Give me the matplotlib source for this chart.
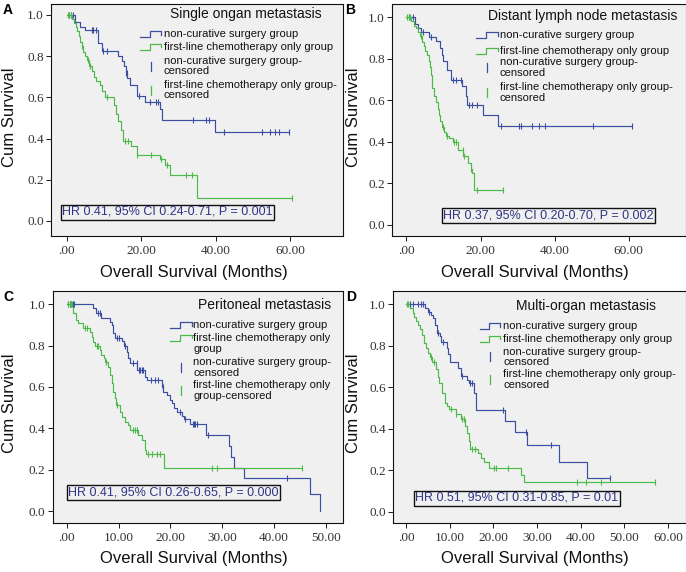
import matplotlib
matplotlib.use("Agg")
import matplotlib.pyplot as plt
import matplotlib.transforms as mtransforms
from matplotlib.lines import Line2D
import numpy as np

# ---------------- data ----------------
# Panel A: Single organ metastasis
a_surg_t = [2.2, 3.6, 4.9, 8.3, 9.4, 13.9, 14.8, 15.4, 15.8, 16.2, 17.0, 18.8, 21.0, 25.0, 25.6, 39.7]
a_surg_s = [0.966, 0.943, 0.926, 0.864, 0.827, 0.80, 0.775, 0.75, 0.72, 0.694, 0.659, 0.605, 0.576, 0.545, 0.49, 0.43]
a_surg_c = [0.5, 1.2, 1.8, 6.7, 7.1, 8.0, 9.8, 10.7, 15.9, 16.1, 19.4, 22.4, 24.0, 24.6,
            34.0, 37.5, 38.3, 42.3, 52.5, 54.7, 55.8, 57.0, 59.8]
a_chem_t = [1.5, 2.0, 2.4, 2.8, 3.2, 3.6, 4.0, 4.4, 5.0, 5.5, 6.1, 6.7, 7.3, 8.0, 9.0, 9.6, 10.3,
            12.8, 13.2, 13.9, 14.6, 15.1, 17.4, 18.8, 25.0, 26.4, 27.7, 35.0]
a_chem_s = [0.98, 0.96, 0.94, 0.92, 0.90, 0.87, 0.85, 0.82, 0.80, 0.78, 0.75, 0.73, 0.70, 0.68, 0.66, 0.63, 0.60,
            0.565, 0.52, 0.484, 0.44, 0.387, 0.363, 0.322, 0.30, 0.273, 0.225, 0.11]
a_chem_c = [0.3, 0.7, 1.1, 4.2, 5.8, 6.3, 10.8, 15.6, 16.5, 19.0, 22.6, 25.3, 27.0, 32.1, 33.6, 60.4]

# Panel B: Distant lymph node metastasis
b_surg_t = [2.3, 3.2, 3.9, 6.2, 8.0, 9.1, 9.5, 10.0, 10.9, 12.0, 15.0, 16.0, 16.3, 20.8, 24.8]
b_surg_s = [0.97, 0.948, 0.928, 0.906, 0.885, 0.85, 0.82, 0.79, 0.748, 0.70, 0.67, 0.62, 0.58, 0.53, 0.475]
b_surg_c = [0.8, 1.7, 4.6, 6.6, 12.6, 13.5, 14.7, 16.8, 17.7, 19.1, 25.4, 30.3, 30.8, 33.8, 35.8, 37.4, 50.4, 60.9]
b_chem_t = [1.3, 2.0, 2.5, 3.1, 3.8, 4.3, 4.7, 5.0, 5.5, 6.0, 6.4, 6.6, 6.8, 7.0, 7.4, 7.9, 8.4, 8.8, 9.2, 9.7,
            10.2, 10.8, 11.5, 12.6, 13.9, 15.3, 16.6, 17.3, 17.8, 18.2]
b_chem_s = [0.98, 0.96, 0.95, 0.93, 0.91, 0.88, 0.86, 0.84, 0.82, 0.79, 0.76, 0.72, 0.69, 0.66, 0.62, 0.59, 0.56,
            0.53, 0.50, 0.47, 0.45, 0.43, 0.42, 0.40, 0.36, 0.33, 0.30, 0.27, 0.25, 0.17]
b_chem_c = [0.3, 0.8, 1.1, 4.0, 6.9, 9.8, 11.0, 12.8, 13.5, 15.2, 15.6, 17.5, 19.1, 26.1]

# Panel C: Peritoneal metastasis
c_surg_t = [5.1, 5.6, 6.7, 8.3, 8.7, 9.0, 9.3, 10.6, 11.1, 11.6, 11.9, 12.2, 13.6, 15.1, 15.5, 18.3, 18.6, 19.3,
            19.9, 20.3, 20.7, 21.2, 22.2, 22.6, 23.8, 26.8, 31.4, 31.7, 32.3, 34.2, 46.9, 48.8]
c_surg_s = [0.98, 0.957, 0.932, 0.913, 0.90, 0.86, 0.835, 0.82, 0.80, 0.77, 0.739, 0.715, 0.682, 0.65, 0.634,
            0.60, 0.577, 0.56, 0.537, 0.52, 0.497, 0.48, 0.46, 0.444, 0.419, 0.368, 0.315, 0.263, 0.21, 0.161,
            0.081, 0.0]
c_surg_c = [0.3, 0.6, 0.9, 1.2, 1.5, 6.1, 6.4, 9.7, 10.0, 11.3, 12.8, 13.5, 13.9, 14.2, 14.5, 14.8, 16.2, 17.0,
            17.6, 18.5, 21.8, 22.9, 24.4, 24.6, 24.8, 25.1, 27.3, 42.5]
c_chem_t = [1.3, 1.8, 2.2, 3.2, 4.5, 4.8, 5.1, 5.5, 6.4, 6.7, 7.1, 7.3, 8.0, 8.3, 8.7, 9.0, 9.3, 9.6, 10.3, 10.6,
            11.2, 11.9, 12.2, 13.8, 14.5, 15.1, 15.3, 18.8]
c_chem_s = [0.957, 0.924, 0.908, 0.884, 0.867, 0.843, 0.819, 0.80, 0.779, 0.755, 0.739, 0.72, 0.698, 0.658,
            0.618, 0.577, 0.545, 0.513, 0.48, 0.456, 0.432, 0.416, 0.39, 0.368, 0.343, 0.295, 0.274, 0.207]
c_chem_c = [0.3, 0.6, 0.9, 1.1, 3.6, 3.9, 5.8, 6.1, 7.6, 9.8, 12.8, 13.2, 13.5, 15.6, 16.4, 17.4, 18.0,
            28.0, 28.9, 45.3]

# Panel D: Multi-organ metastasis
d_surg_t = [4.3, 5.0, 5.8, 6.2, 6.6, 7.0, 7.7, 8.0, 9.3, 9.5, 10.0, 12.0, 12.6, 13.9, 14.4, 15.5, 15.9,
            22.6, 24.9, 27.7, 35.0, 41.5]
d_surg_s = [0.98, 0.965, 0.948, 0.932, 0.90, 0.86, 0.845, 0.82, 0.79, 0.76, 0.722, 0.695, 0.655, 0.635, 0.62,
            0.575, 0.49, 0.437, 0.384, 0.321, 0.242, 0.162]
d_surg_c = [0.8, 1.6, 2.7, 3.3, 3.8, 5.2, 7.2, 8.4, 12.9, 14.6, 15.0, 22.2, 27.4, 33.3, 46.6]
d_chem_t = [0.8, 1.5, 1.9, 2.3, 2.7, 3.1, 3.7, 4.2, 4.6, 5.0, 5.5, 6.0, 6.9, 7.3, 7.6, 8.2, 8.8, 9.3, 9.9,
            11.5, 12.6, 13.4, 13.9, 14.4, 14.7, 16.4, 17.2, 17.9, 19.1, 26.3, 26.9]
d_chem_s = [0.98, 0.96, 0.94, 0.92, 0.90, 0.88, 0.85, 0.815, 0.79, 0.767, 0.745, 0.72, 0.687, 0.65, 0.62,
            0.575, 0.526, 0.51, 0.494, 0.47, 0.446, 0.414, 0.382, 0.342, 0.302, 0.286, 0.26, 0.24, 0.214,
            0.178, 0.143]
d_chem_c = [0.2, 0.5, 5.8, 6.3, 10.3, 11.5, 12.9, 13.3, 15.2, 15.8, 20.2, 20.6, 23.4, 39.2, 41.1, 44.6, 57.0]

titles = ["Single ongan metastasis", "Distant lymph node metastasis",
          "Peritoneal metastasis", "Multi-organ metastasis"]
hr_texts = ["HR 0.41, 95% CI 0.24-0.71, P = 0.001", "HR 0.37, 95% CI 0.20-0.70, P = 0.002",
            "HR 0.41, 95% CI 0.26-0.65, P = 0.000", "HR 0.51, 95% CI 0.31-0.85, P = 0.01"]
panel_letters = ["A", "B", "C", "D"]
x_ticks = [[0, 20, 40, 60], [0, 20, 40, 60], [0, 10, 20, 30, 40, 50], [0, 10, 20, 30, 40, 50, 60]]
y_ticks = [0.0, 0.2, 0.4, 0.6, 0.8, 1.0]
legend_std = [["non-curative surgery group"], ["first-line chemotherapy only group"],
              ["non-curative surgery group-", "censored"], ["first-line chemotherapy only group-", "censored"]]
legend_c = [["non-curative surgery group"], ["first-line chemotherapy only", "group"],
            ["non-curative surgery group-", "censored"], ["first-line chemotherapy only", "group-censored"]]

# ---------------- style / layout ----------------
W, H = 686, 572
BLUE = "#3c4ea2"
GREEN = "#4cba48"
BG = "#f0f0f0"
HRCOL = "#2f3485"
SANS = "Liberation Sans"
SERIF = "Liberation Serif"

fig = plt.figure(figsize=(W / 100, H / 100), dpi=100)
PX = mtransforms.Affine2D().scale(1 / W, -1 / H).translate(0, 1) + fig.transFigure

panels = [
    dict(rect=(51, 4, 342.7, 236), xlim=(-4.2, 74.1), ylim=(-0.073, 1.053),
         surg=(a_surg_t, a_surg_s, a_surg_c), chem=(a_chem_t, a_chem_s, a_chem_c),
         letter=(3, 3), title=(170, 14), handle=(140, 161), tx=163.5,
         rows=[[34.3], [46.7], [61, 71], [85, 95]], labels=legend_std,
         hr=(167.5, 212), ylab=(10, 117), xlab=(194, 272)),
    dict(rect=(392.3, 4, 685.5, 236), xlim=(-3.8, 75.3), ylim=(-0.053, 1.064),
         surg=(b_surg_t, b_surg_s, b_surg_c), chem=(b_chem_t, b_chem_s, b_chem_c),
         letter=(345.5, 3), title=(488, 16), handle=(476, 498), tx=500,
         rows=[[35], [50.7], [62.3, 72.7], [87.3, 97.7]], labels=legend_std,
         hr=(548.5, 215.5), ylab=(353, 117), xlab=(535, 272)),
    dict(rect=(52.7, 291, 343, 523), xlim=(-2.7, 53.3), ylim=(-0.058, 1.064),
         surg=(c_surg_t, c_surg_s, c_surg_c), chem=(c_chem_t, c_chem_s, c_chem_c),
         letter=(3, 290), title=(198, 305), handle=(170, 192), tx=193,
         rows=[[325.3], [337.7, 348.7], [362, 372.7], [385.3, 396]], labels=legend_c,
         hr=(173.5, 492.7), ylab=(10, 403), xlab=(194, 559)),
    dict(rect=(393, 291, 685.5, 523), xlim=(-3.0, 64.0), ylim=(-0.053, 1.064),
         surg=(d_surg_t, d_surg_s, d_surg_c), chem=(d_chem_t, d_chem_s, d_chem_c),
         letter=(346, 290), title=(516, 306), handle=(479.7, 500.3), tx=503,
         rows=[[326], [338.7], [351.7, 362], [374.3, 385]], labels=legend_std,
         hr=(516.7, 498), ylab=(353, 403), xlab=(535, 559)),
]


def km_curve(ax, times, surv, cens, color):
    end = max(max(cens), times[-1])
    xs = [0.0] + list(times) + [end]
    ys = [1.0] + list(surv) + [surv[-1]]
    ax.step(xs, ys, where="post", color=color, lw=0.85, zorder=3)
    levels = np.array([1.0] + list(surv))
    idx = np.searchsorted(np.array(times), np.array(cens), side="right")
    ax.plot(cens, levels[idx], linestyle="none", marker="|", markersize=4.6,
            markeredgewidth=0.8, color=color, zorder=4)


def xfmt(v, _):
    s = f"{v:.2f}"
    return s[1:] if s.startswith("0") else s


for i, p in enumerate(panels):
    l, t, r, b = p["rect"]
    ax = fig.add_axes([l / W, 1 - b / H, (r - l) / W, (b - t) / H])
    ax.set_facecolor(BG)
    km_curve(ax, *p["surg"], BLUE)
    km_curve(ax, *p["chem"], GREEN)
    ax.set_xlim(*p["xlim"])
    ax.set_ylim(*p["ylim"])
    ax.set_xticks(x_ticks[i])
    ax.set_yticks(y_ticks)
    ax.xaxis.set_major_formatter(plt.FuncFormatter(xfmt))
    ax.yaxis.set_major_formatter(plt.FuncFormatter(lambda v, _: f"{v:.1f}"))
    ax.tick_params(direction="out", length=3.3, width=0.75, labelsize=9.5, colors="#222222")
    ax.tick_params(axis="y", pad=2)
    ax.tick_params(axis="x", pad=3.5)
    for lab in ax.get_xticklabels() + ax.get_yticklabels():
        lab.set_fontfamily(SERIF)
        lab.set_color("#333333")
    for sp in ax.spines.values():
        sp.set_linewidth(0.8)
        sp.set_color("#111111")

    # HR annotation box
    fig.text(*p["hr"], hr_texts[i], transform=PX, ha="center", va="center", fontsize=9,
             family=SANS, color=HRCOL,
             bbox=dict(boxstyle="square,pad=0.12", facecolor="none", edgecolor="#111111", lw=1.0))

    # title + legend
    fig.text(*p["title"], titles[i], transform=PX, ha="left", va="center", fontsize=10,
             family=SANS, color="#111111")
    hx0, hx1 = p["handle"]
    hm = hx0 + 0.47 * (hx1 - hx0)
    for k, (ys, lines) in enumerate(zip(p["rows"], p["labels"])):
        col = BLUE if k % 2 == 0 else GREEN
        for yy, txt in zip(ys, lines):
            fig.text(p["tx"], yy, txt, transform=PX, ha="left", va="center", fontsize=8,
                     family=SANS, color="#111111")
        if k < 2:
            yc = ys[0]
            fig.add_artist(Line2D([hx0, hm, hm, hx1, hx1], [yc + 3, yc + 3, yc - 3, yc - 3, yc + 0.5],
                                  transform=PX, color=col, lw=0.9))
        else:
            yc = sum(ys) / len(ys)
            xm = (hx0 + hx1) / 2
            fig.add_artist(Line2D([xm, xm], [yc - 4.5, yc + 4.5], transform=PX, color=col, lw=0.9))

    # axis labels and panel letter
    fig.text(*p["ylab"], "Cum Survival", transform=PX, rotation=90, ha="center", va="center",
             fontsize=12, family=SANS, color="#111111")
    fig.text(*p["xlab"], "Overall Survival (Months)", transform=PX, ha="center", va="center",
             fontsize=12, family=SANS, color="#111111")
    fig.text(*p["letter"], panel_letters[i], transform=PX, ha="left", va="top", fontsize=10,
             fontweight="bold", family=SANS, color="#000000")

fig.savefig("out.png", dpi=100, facecolor="white")
